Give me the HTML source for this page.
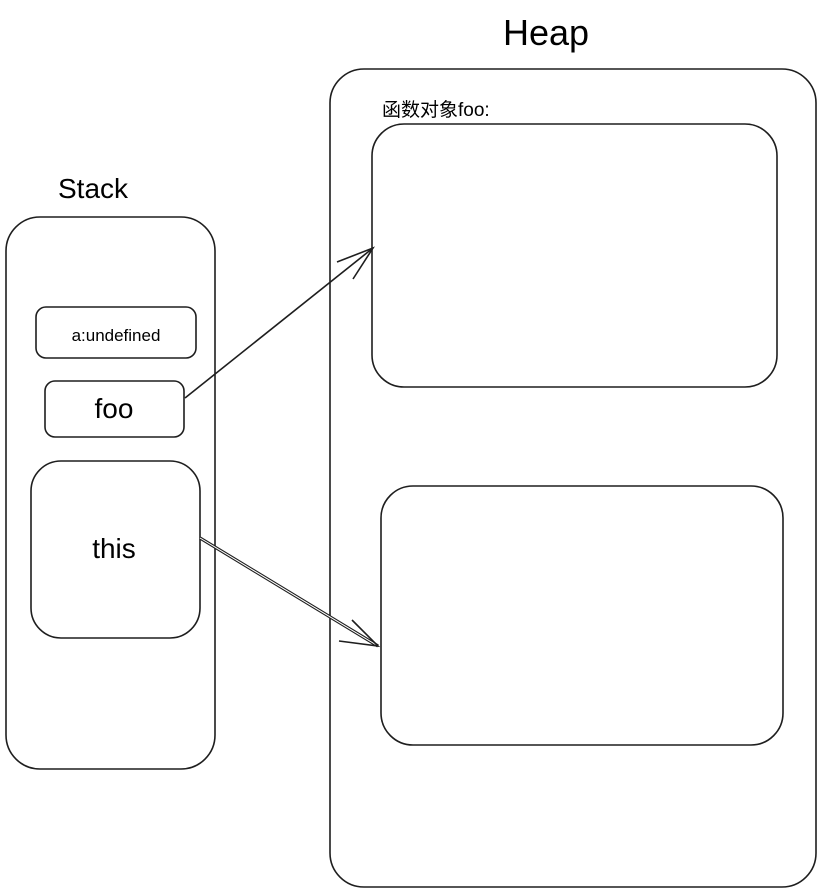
<!DOCTYPE html>
<html><head><meta charset="utf-8"><style>
html,body{margin:0;padding:0;background:#fff;width:823px;height:894px;overflow:hidden}
svg{display:block}
text{font-family:"Liberation Sans","Noto Sans CJK SC",sans-serif;fill:#000}
</style></head><body>
<svg width="823" height="894" viewBox="0 0 823 894" xmlns="http://www.w3.org/2000/svg">
<g fill="none" stroke="#1e1e1e" stroke-width="1.6">
<!-- stack -->
<rect x="6" y="217" width="209" height="552" rx="34"/>
<rect x="36" y="307" width="160" height="51" rx="10"/>
<rect x="45" y="381" width="139" height="56" rx="10"/>
<rect x="31" y="461" width="169" height="177" rx="30"/>
<!-- heap -->
<rect x="330" y="69" width="486" height="818" rx="34"/>
<rect x="372" y="124" width="405" height="263" rx="32"/>
<rect x="381" y="486" width="402" height="259" rx="32"/>
<!-- arrows -->
<path d="M185 398 L373 248"/>
<path d="M337 262 L373 248 L353 279"/>
<path d="M200 538 L378 646" stroke-width="3.2"/>
<path d="M200 538 L378 646" stroke="#fff" stroke-width="1"/>
<path d="M352 620 L378 646 L339 641"/>
</g>
<text x="58" y="198" font-size="28">Stack</text>
<text x="503" y="45" font-size="36">Heap</text>
<text x="116" y="341" font-size="17" text-anchor="middle">a:undefined</text>
<text x="114" y="418" font-size="28" text-anchor="middle">foo</text>
<text x="114" y="558" font-size="28" text-anchor="middle">this</text>
<text x="382" y="116" font-size="19">函数对象foo:</text>
</svg>
</body></html>
